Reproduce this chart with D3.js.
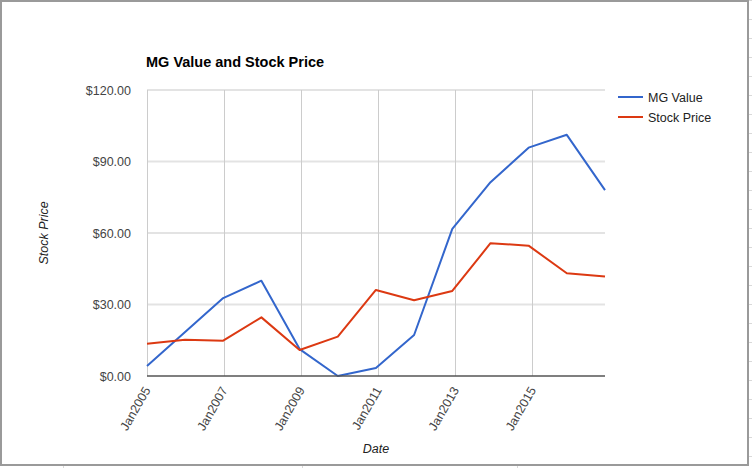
<!DOCTYPE html>
<html><head><meta charset="utf-8">
<script src="https://cdn.jsdelivr.net/npm/d3@7"></script>
<style>body{margin:0;background:#fff}svg{display:block}text{font-family:Arial,"Liberation Sans",sans-serif}</style>
</head><body>
<svg id="c" width="752" height="468"></svg>
<script>
const dates = ["2005-01-01","2005-12-28","2006-12-24","2007-12-21","2008-12-17","2009-12-14","2010-12-10","2011-12-07","2012-12-03","2013-11-30","2014-11-26","2015-11-23","2016-11-19"];
const mgValue = [4.2,18.5,32.7,40.0,11.3,0.0,3.4,17.2,61.7,81.3,95.8,101.2,78.0];
const stockPrice = [13.5,15.2,14.8,24.6,10.9,16.5,36.1,31.8,35.7,55.7,54.7,43.1,41.7];
const xTicks = ["2005-01-01","2007-01-01","2009-01-01","2011-01-01","2013-01-01","2015-01-01"];
const yTicks = [0,30,60,90,120];
const seriesNames = ["MG Value","Stock Price"];
const colors = ["#3366cc","#dc3912"];

const parse = d3.utcParse("%Y-%m-%d");
const dts = dates.map(parse);
const tks = xTicks.map(parse);

const svg = d3.select("#c");
// spreadsheet grid remnants outside the chart box
const g0 = svg.append("g").attr("stroke","#d9d9d9").attr("stroke-width",1);
[44,209,359,453].forEach(x=>g0.append("line").attr("x1",x+.5).attr("x2",x+.5).attr("y1",0).attr("y2",1));
[63,302,517].forEach(x=>g0.append("line").attr("x1",x+.5).attr("x2",x+.5).attr("y1",466).attr("y2",468));
d3.range(0,468,19).forEach(y=>{
  g0.append("line").attr("x1",749).attr("x2",752).attr("y1",y+.5).attr("y2",y+.5);
});
[437,456].forEach(y=>g0.append("line").attr("x1",0).attr("x2",0.5).attr("y1",y+.5).attr("y2",y+.5));

svg.append("rect").attr("x",1).attr("y",1).attr("width",747).attr("height",464)
  .attr("fill","#fff").attr("stroke","#9a9a9a").attr("stroke-width",2);

const L=147,R=605,T=90,B=376;
const x = d3.scaleUtc().domain([dts[0],dts[dts.length-1]]).range([L,R]);
const y = d3.scaleLinear().domain([0,120]).range([B,T]);

// horizontal gridlines
svg.append("g").selectAll("line").data(yTicks.filter(d=>d>0)).join("line")
  .attr("x1",L).attr("x2",R).attr("y1",d=>y(d)).attr("y2",d=>y(d))
  .attr("stroke","#e3e3e3").attr("stroke-width",2);
// vertical gridlines
svg.append("g").selectAll("line").data(tks).join("line")
  .attr("x1",d=>Math.round(x(d))+.5).attr("x2",d=>Math.round(x(d))+.5).attr("y1",T).attr("y2",B)
  .attr("stroke","#cccccc").attr("stroke-width",1);

// y labels
svg.append("g").selectAll("text").data(yTicks).join("text")
  .attr("x",131).attr("y",d=>y(d)+4.5).attr("text-anchor","end")
  .attr("font-size","12.5px").attr("fill","#444").text(d=>"$"+d3.format(".2f")(d));

// x labels
svg.append("g").selectAll("text").data(tks).join("text")
  .attr("transform",d=>`translate(${x(d)+4},${B+14}) rotate(-60)`)
  .attr("text-anchor","end").attr("font-size","12.5px").attr("fill","#444").text(d=>d3.utcFormat("Jan%Y")(d));

// lines
const line = d3.line().x((d,i)=>x(dts[i])).y(d=>y(d));
[mgValue,stockPrice].forEach((s,k)=>{
  svg.append("path").datum(s).attr("d",line).attr("fill","none")
    .attr("stroke",colors[k]).attr("stroke-width",2).attr("stroke-linejoin","round");
});

// baseline
svg.append("line").attr("x1",L).attr("x2",R).attr("y1",B).attr("y2",B)
  .attr("stroke","#555").attr("stroke-width",1.5);

// title
svg.append("text").attr("x",146).attr("y",67).attr("font-size","14.5px").attr("font-weight","bold")
  .attr("fill","#000").text("MG Value and Stock Price");

// axis titles
svg.append("text").attr("x",(L+R)/2).attr("y",453).attr("text-anchor","middle")
  .attr("font-size","12.5px").attr("font-style","italic").attr("fill","#222").text("Date");
svg.append("text").attr("transform","translate(48,233) rotate(-90)").attr("text-anchor","middle")
  .attr("font-size","12.5px").attr("font-style","italic").attr("fill","#222").text("Stock Price");

// legend
seriesNames.forEach((n,k)=>{
  const yy=97+k*20;
  svg.append("line").attr("x1",618).attr("x2",643).attr("y1",yy).attr("y2",yy)
    .attr("stroke",colors[k]).attr("stroke-width",2);
  svg.append("text").attr("x",648).attr("y",yy+4.5).attr("font-size","12.5px").attr("fill","#222").text(n);
});
</script>
</body></html>
